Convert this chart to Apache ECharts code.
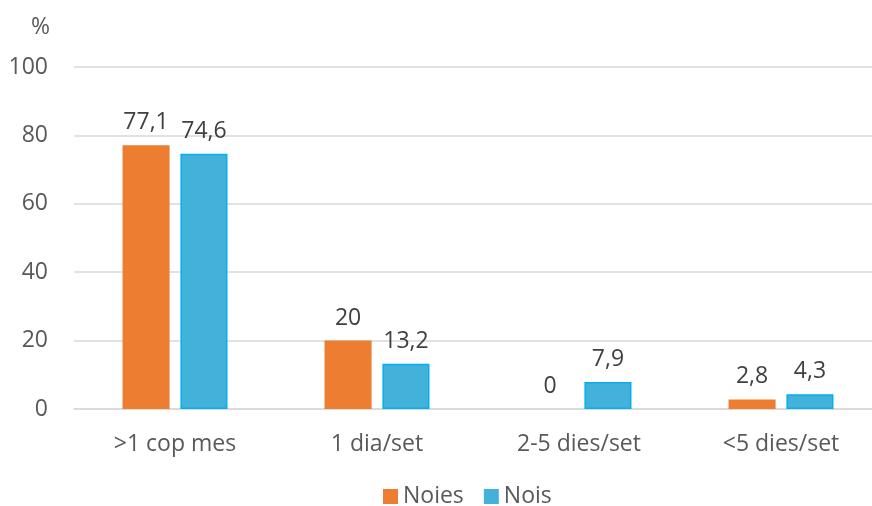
<!DOCTYPE html>
<html>
<head>
<meta charset="utf-8">
<script src="https://cdn.jsdelivr.net/npm/echarts@6/dist/echarts.min.js"></script>
<style>
  html, body { margin: 0; padding: 0; background: #fff; overflow: hidden; }
  #chart { width: 884px; height: 506px; }
</style>
</head>
<body>
<div id="chart"></div>
<script>
const categories = ['>1 cop mes', '1 dia/set', '2-5 dies/set', '<5 dies/set']
const noies = [77.1, 20, 0, 2.8]
const nois = [74.6, 13.2, 7.9, 4.3]

const font = '"Open Sans", sans-serif'
const fmt = p => String(p.value).replace('.', ',')

// chart is a bit wider than the window: the plot area runs past the right edge
const chart = echarts.init(document.getElementById('chart'))
chart.setOption({
  animation: false,
  textStyle: { fontFamily: font },
  grid: {
    left: 74,
    right: 2,
    top: 67,
    bottom: 97
  },
  legend: {
    top: 480,
    left: 378,
    itemWidth: 15,
    itemHeight: 15,
    itemGap: 20,
    itemStyle: { borderWidth: 0 },
    icon: 'rect',
    textStyle: { fontSize: 23, color: '#595959', fontFamily: font },
    data: ['Noies', 'Nois']
  },
  xAxis: {
    type: 'category',
    data: categories,
    axisTick: { show: false },
    axisLine: { lineStyle: { color: '#d9d9d9', width: 1.5 } },
    axisLabel: { fontSize: 23, color: '#595959', margin: 24, fontFamily: font }
  },
  yAxis: {
    type: 'value',
    min: 0,
    max: 100,
    interval: 20,
    name: '%',
    nameLocation: 'end',
    nameGap: 28,
    nameTextStyle: { fontSize: 23, color: '#595959', align: 'right', padding: [0, 24, 0, 0], fontFamily: font },
    axisLine: { show: false },
    axisTick: { show: false },
    axisLabel: { fontSize: 23, color: '#595959', margin: 26, fontFamily: font },
    splitLine: { lineStyle: { color: '#d9d9d9', width: 1.5 } }
  },
  series: [{
    name: 'Noies',
    type: 'bar',
    data: noies,
    barWidth: '23.3%',
    barGap: '23%',
    itemStyle: { color: '#ED7D31', borderWidth: 0 },
    label: { show: true, position: 'top', distance: 11, fontSize: 23, color: '#404040', formatter: fmt, fontFamily: font }
  }, {
    name: 'Nois',
    type: 'bar',
    data: nois,
    barWidth: '23.3%',
    itemStyle: { color: '#43B2DA', borderColor: '#00B0F0', borderWidth: 1.5 },
    label: { show: true, position: 'top', distance: 11, fontSize: 23, color: '#404040', formatter: fmt, fontFamily: font }
  }]
})
</script>
</body>
</html>
